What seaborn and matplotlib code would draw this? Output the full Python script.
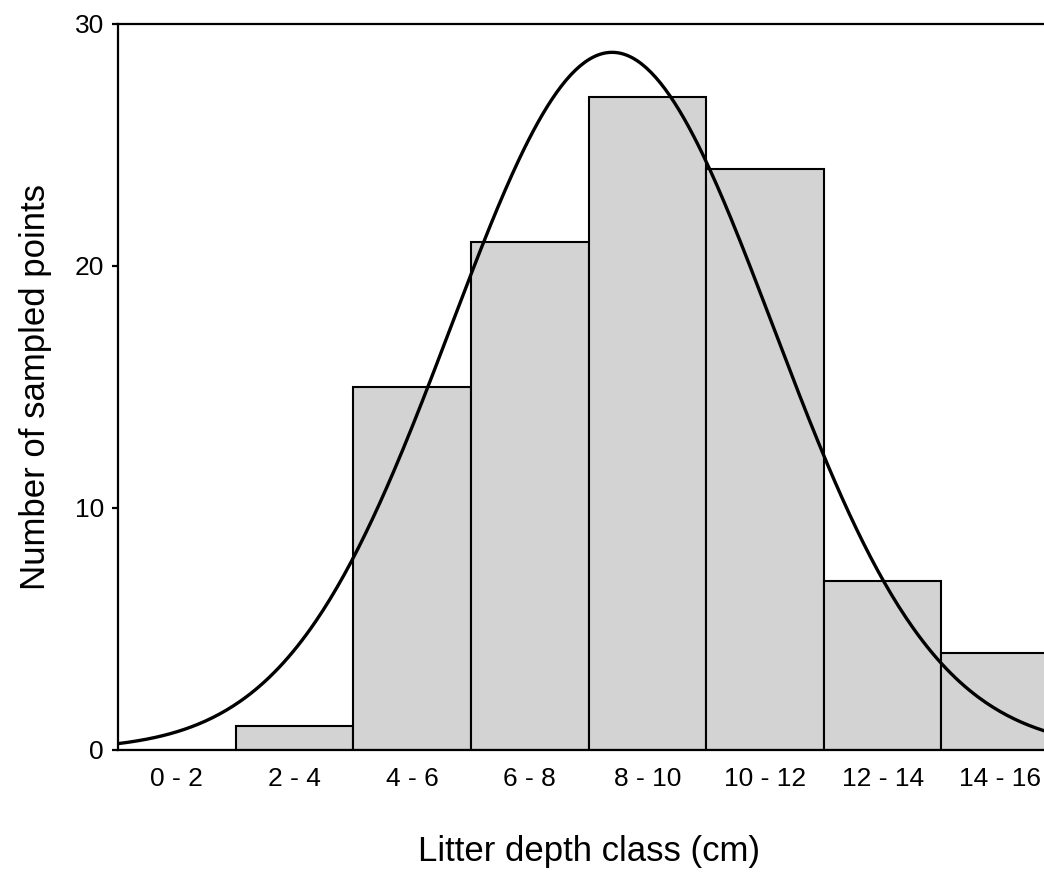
import numpy as np
import pandas as pd
import matplotlib
matplotlib.use("Agg")
import matplotlib.pyplot as plt
import seaborn as sns

# Litter depth classes and number of sampled points per class
classes = ["0 - 2", "2 - 4", "4 - 6", "6 - 8", "8 - 10", "10 - 12", "12 - 14", "14 - 16"]
counts = [0, 1, 15, 21, 27, 24, 7, 4]
class_width = 2.0          # cm
# Fitted normal curve parameters (cm)
fit_mean = 8.4
fit_sd = 2.74
y_ticks = [0, 10, 20, 30]

sns.set_theme(style="white")
plt.rcParams["font.family"] = ["Liberation Sans", "DejaVu Sans"]
plt.rcParams["text.color"] = "black"
plt.rcParams["axes.labelcolor"] = "black"

df = pd.DataFrame({"cls": classes, "n": counts})

fig = plt.figure(figsize=(10.44, 8.82), dpi=100)
ax = fig.add_axes([0.113, 0.1497, 0.9015, 0.8231])

sns.barplot(data=df, x="cls", y="n", order=classes, width=1.0,
            color="#d3d3d3", saturation=1, edgecolor="black",
            linewidth=1.5, ax=ax)

# Normal curve scaled to counts per class
depth = np.linspace(0, 16, 400)
n_total = sum(counts)
density = n_total * class_width / (fit_sd * np.sqrt(2 * np.pi)) * \
    np.exp(-0.5 * ((depth - fit_mean) / fit_sd) ** 2)
ax.plot(depth / class_width - 0.5, density, color="black", lw=2.4)

ax.set_xlim(-0.5, len(classes) - 0.5)
ax.set_ylim(0, 30)
ax.set_yticks(y_ticks)
ax.set_yticklabels([str(t) for t in y_ticks])

for side in ["left", "bottom", "top"]:
    ax.spines[side].set_visible(True)
    ax.spines[side].set_color("black")
    ax.spines[side].set_linewidth(1.6)
ax.spines["right"].set_visible(False)

ax.tick_params(axis="y", left=True, length=4, width=1.6, direction="out",
               labelsize=19, pad=6, colors="black")
ax.tick_params(axis="x", bottom=False, labelsize=19, pad=6, colors="black")

ax.set_xlabel("Litter depth class (cm)", fontsize=25, labelpad=32)
ax.set_ylabel("Number of sampled points", fontsize=25, labelpad=16)

fig.savefig("out.png", dpi=100)
